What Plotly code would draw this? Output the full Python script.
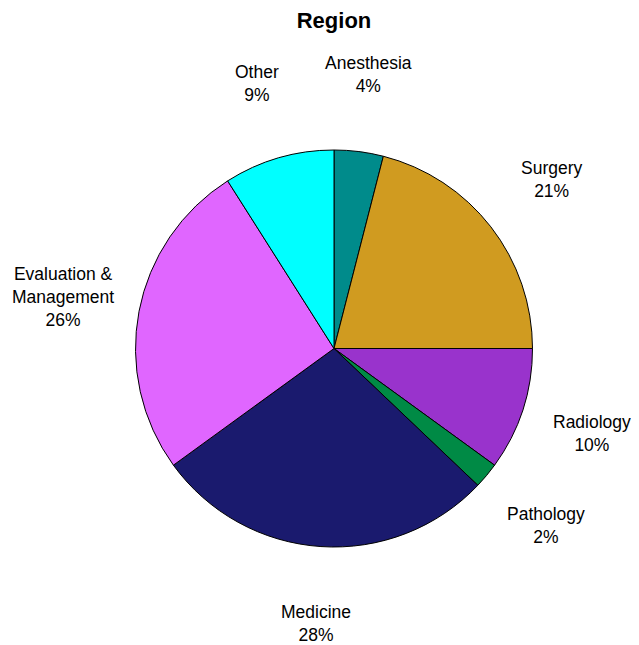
import math

import plotly.graph_objects as go

categories = ["Anesthesia", "Surgery", "Radiology", "Pathology", "Medicine",
              "Evaluation &<br>Management", "Other"]
shares = [4.0, 21.0, 10.0, 2.1, 27.9, 26.0, 9.0]
colors = ["#008B8B", "#D09B20", "#9933CC", "#008A45", "#1A1A6E", "#E066FF", "#00FFFF"]

# page body adds an 8px offset, so the figure is a bit smaller than the window
W, H = 631, 637
margin = dict(l=127, r=106, t=142, b=98)
plot_w = W - margin["l"] - margin["r"]
plot_h = H - margin["t"] - margin["b"]
label_r = 276    # px from pie centre
max_label_x = 584  # keep label centres clear of the right edge

fig = go.Figure(
    go.Pie(
        labels=categories,
        values=shares,
        sort=False,
        direction="clockwise",
        rotation=0,
        marker=dict(colors=colors, line=dict(color="black", width=1)),
        textinfo="none",
        hoverinfo="label+percent",
        showlegend=False,
    )
)

total = sum(shares)
cum = 0.0
cx = margin["l"] + plot_w / 2
for name, v in zip(categories, shares):
    mid = (cum + v / 2) / total * 2 * math.pi
    cum += v
    pct = round(v / total * 100)
    x_px = min(cx + label_r * math.sin(mid), max_label_x)
    fig.add_annotation(
        x=(x_px - margin["l"]) / plot_w,
        y=0.5 + label_r * math.cos(mid) / plot_h,
        xref="paper", yref="paper",
        text=f"{name}<br>{pct}%",
        showarrow=False,
        xanchor="center", yanchor="middle",
        font=dict(size=17.5, color="black", family="Liberation Sans, Arial"),
    )

fig.update_layout(
    width=W, height=H,
    margin=margin,
    title=dict(text="<b>Region</b>", x=326 / W, xanchor="center", y=1 - 12 / H, yanchor="middle",
               font=dict(size=22, color="black", family="Liberation Sans, Arial")),
    paper_bgcolor="white",
    plot_bgcolor="white",
)

fig.write_html("out.html")
